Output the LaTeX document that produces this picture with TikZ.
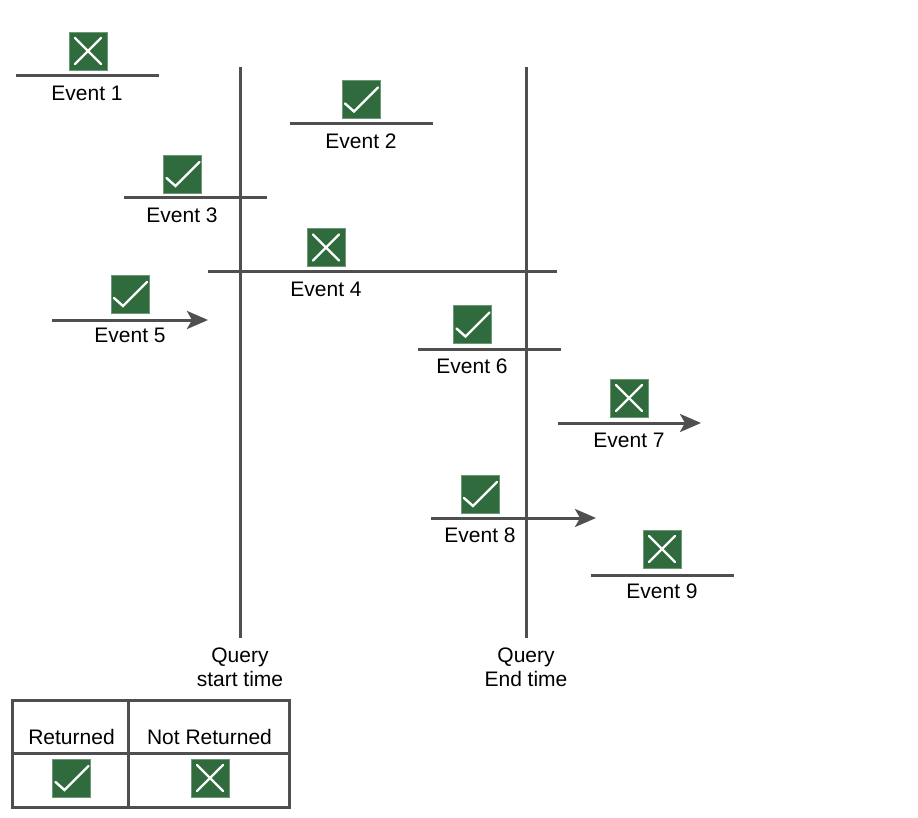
\documentclass[tikz,border=0pt]{standalone}
\usepackage{fontspec}
\setmainfont{Liberation Sans}
\usetikzlibrary{arrows.meta}
\definecolor{icongreen}{HTML}{2F6B3D}
\definecolor{linegray}{HTML}{4F4F4F}
\tikzset{
    evline/.style={draw=linegray,line width=3pt},
    evarrow/.style={evline,-{Stealth[length=21pt,width=18pt,inset=5pt]}},
    evlabel/.style={inner sep=0pt,font=\fontsize{21}{24}\selectfont,align=center},
    icon/.style={draw=icongreen!70!white,line width=0.7pt,fill=icongreen,minimum size=38pt,inner sep=0pt},
    tickicon/.style={icon,path picture={
        \draw[white,line width=2.4pt,line cap=round]
            (path picture bounding box.center) ++(-16pt,-4pt) -- ++(9pt,-8pt) -- ++(24pt,24pt);}},
    crossicon/.style={icon,path picture={
        \draw[white,line width=2.4pt,line cap=round]
            (path picture bounding box.center) ++(-13pt,-13pt) -- ++(26pt,26pt)
            (path picture bounding box.center) ++(-13pt,13pt) -- ++(26pt,-26pt);}},
}
\begin{document}
\begin{tikzpicture}[x=1pt,y=-1pt]
    \useasboundingbox (0,0) rectangle (918,818);
    % query lines
    \coordinate (starttop) at (240,67);
    \coordinate (startbot) at (240,638);
    \coordinate (endtop) at (526,67);
    \coordinate (endbot) at (526,638);
    \draw[evline] (starttop) -- (startbot);
    \draw[evline] (endtop) -- (endbot);
    \node[evlabel] (startlabel) at (240,667) {Query\\start time};
    \node[evlabel] (endlabel) at (526,667) {Query\\End time};
    % events: number/line/icon/left/right/y/icon x/icon y/label x/label y
    \foreach \n/\linekind/\iconkind/\xa/\xb/\yy/\xi/\yi/\xl/\yl in {
        1/evline/crossicon/16/159/76/88/51/87/93.5,
        2/evline/tickicon/290/433/124/361/99.5/361/141,
        3/evline/tickicon/124/267/198/182.5/174/182/215,
        4/evline/crossicon/208/557/272/326/247.5/326/289.5,
        5/evarrow/tickicon/52/208/320/130/294/130/335.5,
        6/evline/tickicon/418/561/349/472.5/324.5/472/366,
        7/evarrow/crossicon/558/701/423/629/398/629/440.5,
        8/evarrow/tickicon/431/596/518/480/494/480/535,
        9/evline/crossicon/591/734/575/662/549/662/591}
    {
        \coordinate (left\n) at (\xa,\yy);
        \coordinate (right\n) at (\xb,\yy);
        \draw[\linekind] (left\n) -- (right\n);
        \node[\iconkind] (icon\n) at (\xi,\yi) {};
        \node[evlabel] (event\n) at (\xl,\yl) {Event \n};
    }
    % legend
    \draw[evline] (12,700) rectangle (289,807);
    \coordinate (coltop) at (128,700);
    \coordinate (colbot) at (128,807);
    \coordinate (rowleft) at (12,753);
    \coordinate (rowright) at (289,753);
    \draw[evline] (coltop) -- (colbot);
    \draw[evline] (rowleft) -- (rowright);
    \node[evlabel] (returned) at (71.5,737) {Returned};
    \node[evlabel] (notreturned) at (209.5,737) {Not Returned};
    \node[tickicon] (returnedicon) at (71.5,778) {};
    \node[crossicon] (notreturnedicon) at (210,778) {};
\end{tikzpicture}
\end{document}
